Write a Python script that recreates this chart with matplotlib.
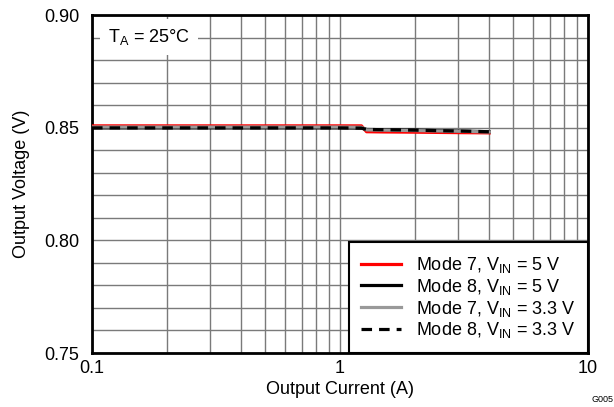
import matplotlib
matplotlib.use("Agg")
import matplotlib.pyplot as plt
from matplotlib.ticker import FixedLocator, NullFormatter

plt.rcParams["font.family"] = ["Liberation Sans", "DejaVu Sans"]
plt.rcParams["mathtext.fontset"] = "custom"
plt.rcParams["mathtext.rm"] = "Liberation Sans"
plt.rcParams["mathtext.default"] = "regular"

# output current (A)
current = [0.1, 0.2, 0.5, 1.0, 1.22, 1.28, 1.5, 2.0, 3.0, 4.0]
# output voltage (V) per mode
v_mode7_5v = [0.8508, 0.8508, 0.8508, 0.8508, 0.8508, 0.8482, 0.8481, 0.8480, 0.8478, 0.8477]
v_mode8_5v = [0.8499, 0.8499, 0.8499, 0.8499, 0.8498, 0.8492, 0.8491, 0.8489, 0.8485, 0.8482]
v_mode7_33v = [0.8503, 0.8503, 0.8503, 0.8503, 0.8502, 0.8490, 0.8489, 0.8487, 0.8484, 0.8481]
v_mode8_33v = [0.8499, 0.8499, 0.8499, 0.8499, 0.8498, 0.8492, 0.8491, 0.8489, 0.8485, 0.8482]

FS = 13

fig = plt.figure(figsize=(6.14, 4.07), dpi=100)
ax = fig.add_axes([92 / 614, 1 - 353 / 407, 496 / 614, 338 / 407])

ax.plot(current, v_mode7_5v, color="#ff0000", lw=2.3, label="Mode 7, V$_{IN}$ = 5 V", zorder=3)
ax.plot(current, v_mode8_5v, color="black", lw=2.3, label="Mode 8, V$_{IN}$ = 5 V", zorder=4)
ax.plot(current, v_mode7_33v, color="#999999", lw=2.3, label="Mode 7, V$_{IN}$ = 3.3 V", zorder=5)
ax.plot(current, v_mode8_33v, color="black", lw=2.3, ls=(0, (3.3, 2.2)), label="Mode 8, V$_{IN}$ = 3.3 V", zorder=6)

ax.set_xscale("log")
ax.set_xlim(0.1, 10)
ax.set_ylim(0.75, 0.90)
ax.set_xticks([0.1, 1, 10])
ax.set_xticklabels(["0.1", "1", "10"])
ax.xaxis.set_minor_locator(FixedLocator([m * d for d in (0.1, 1) for m in range(2, 10)]))
ax.xaxis.set_minor_formatter(NullFormatter())
ax.set_yticks([0.75, 0.80, 0.85, 0.90])
ax.set_yticklabels(["0.75", "0.80", "0.85", "0.90"])
ax.yaxis.set_minor_locator(FixedLocator([0.75 + 0.01 * i for i in range(16)]))
ax.grid(True, which="both", color="#7a7a7a", lw=1)
ax.set_axisbelow(True)
ax.tick_params(which="both", length=0, labelsize=FS)
ax.tick_params(axis="y", pad=9)
ax.tick_params(axis="x", pad=5)
for s in ax.spines.values():
    s.set_linewidth(2)

ax.set_xlabel("Output Current (A)", fontsize=FS, labelpad=3)
ax.set_ylabel("Output Voltage (V)", fontsize=FS, labelpad=10)

ax.text(0.032, 0.935, "T$_A$ = 25°C", transform=ax.transAxes, fontsize=FS,
        va="center", ha="left", zorder=7,
        bbox=dict(facecolor="white", edgecolor="none", pad=6))

leg = ax.legend(loc="lower right", fontsize=FS, frameon=True, fancybox=False,
                edgecolor="black", framealpha=1, handlelength=2.2,
                borderaxespad=0, labelspacing=0.1, borderpad=0.7, handletextpad=0.8)
leg.get_frame().set_linewidth(1.5)
leg.set_zorder(8)

fig.text(602 / 614, 1 - 400 / 407, "G005", fontsize=6.5, ha="center", va="center")

fig.savefig("out.png", dpi=100)
